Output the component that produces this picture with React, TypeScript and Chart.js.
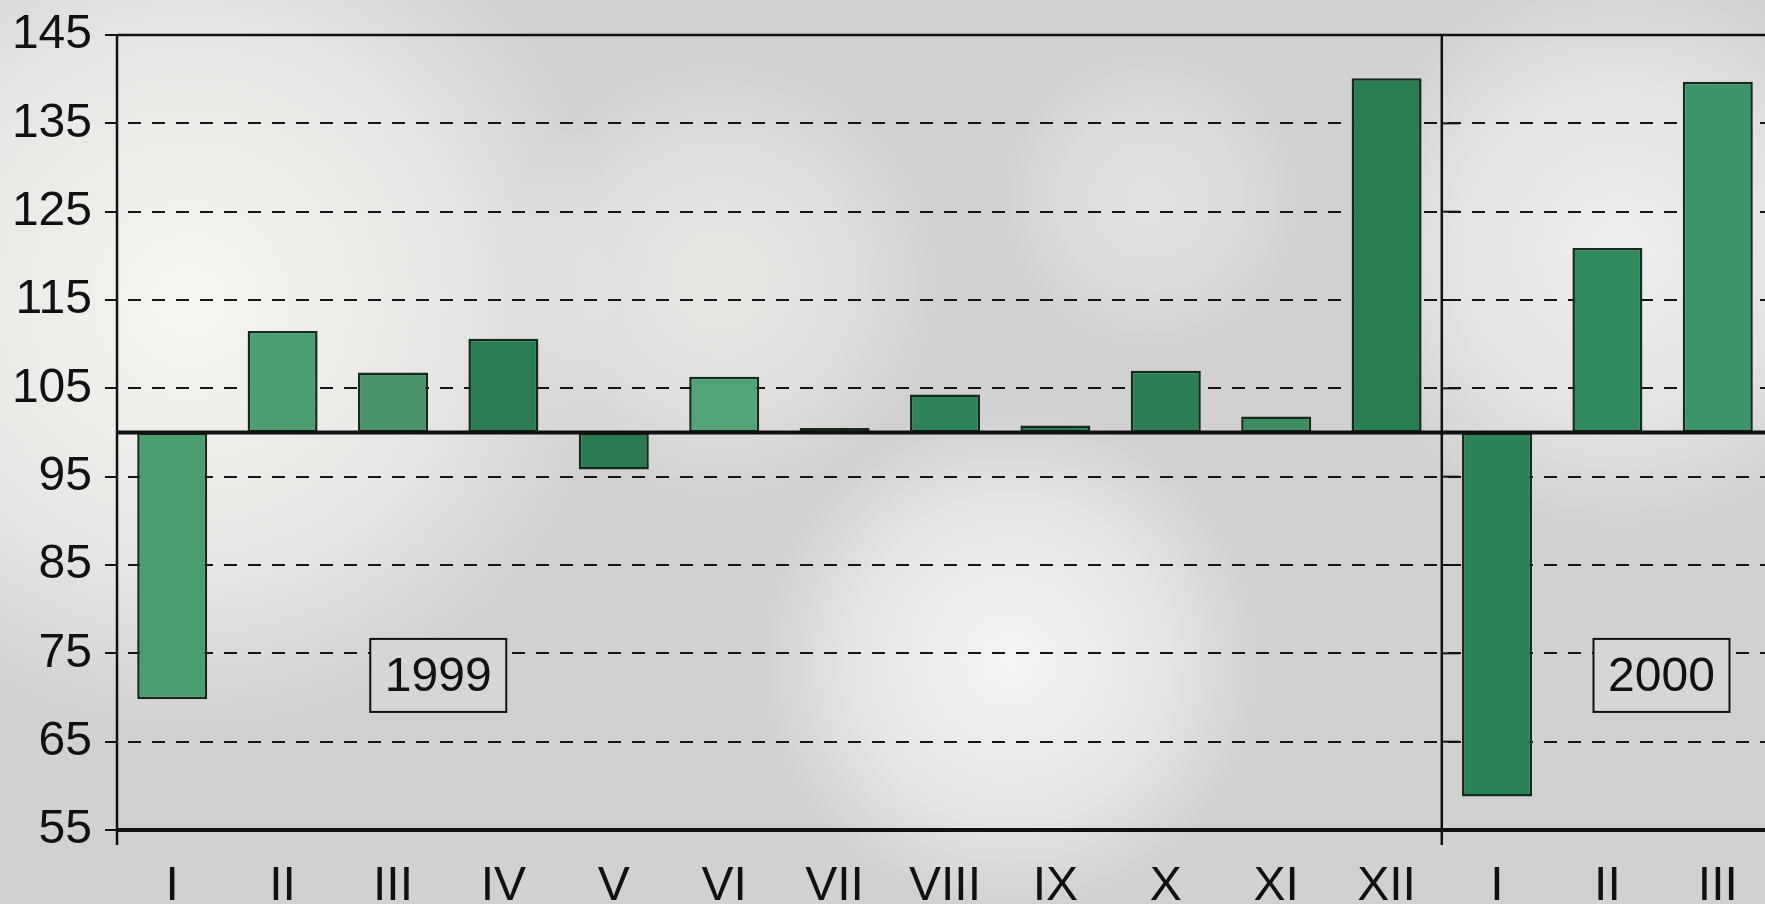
import React, { useEffect, useRef } from 'react';
import { Chart, registerables } from 'chart.js';

Chart.register(...registerables);

const categories = ['I', 'II', 'III', 'IV', 'V', 'VI', 'VII', 'VIII', 'IX', 'X', 'XI', 'XII', 'I', 'II', 'III'];
const values = [69.8, 111.5, 106.8, 110.6, 95.8, 106.3, 100.5, 104.3, 100.8, 107.0, 101.8, 140.1, 58.8, 120.9, 139.7];
const barColors = [
  '#4a9d6c', '#4c9f6e', '#4a9469', '#2c7d52', '#2b7a50', '#52a475', '#2a6e48', '#2e8456',
  '#2a7a50', '#2c7f53', '#3d8e60', '#2a7f51', '#2b8254', '#308b5c', '#3b9569',
];
const yearLabels = ['1999', '2000'];
const yearLabelCategory = [2.41, 13.49];
const yearLabelValue = [72.5, 72.5];
const yMin = 55;
const yMax = 145;
const yStep = 10;
const baseValue = 100;
const yearBoundary = 11.5;

const FONT = '"Liberation Sans", Arial, Helvetica, sans-serif';

export default function App() {
  const ref = useRef<HTMLCanvasElement>(null);

  useEffect(() => {
    document.body.style.margin = '0';
    const canvas = ref.current;
    if (!canvas) return;

    const bgPlugin = {
      id: 'bgMosaic',
      beforeDraw(chart: any) {
        const { ctx, width, height } = chart;
        ctx.save();
        ctx.fillStyle = '#d1d1d1';
        ctx.fillRect(0, 0, width, height);
        const blobs: [number, number, number, number, number, number, number][] = [
          [190, 300, 430, 249, 247, 243, 0.95],
          [720, 280, 220, 246, 245, 240, 0.6],
          [1010, 660, 250, 250, 250, 250, 0.85],
          [1620, 250, 280, 244, 247, 247, 0.8],
          [1150, 200, 150, 240, 242, 242, 0.5],
        ];
        for (const [x, y, r, cr, cg, cb, a] of blobs) {
          const g = ctx.createRadialGradient(x, y, 0, x, y, r);
          g.addColorStop(0, `rgba(${cr},${cg},${cb},${a})`);
          g.addColorStop(0.6, `rgba(${cr},${cg},${cb},${a * 0.6})`);
          g.addColorStop(1, `rgba(${cr},${cg},${cb},0)`);
          ctx.fillStyle = g;
          ctx.fillRect(0, 0, width, height);
        }
        ctx.restore();
      },
    };

    const overlayPlugin = {
      id: 'overlay',
      afterDatasetsDraw(chart: any) {
        const { ctx, chartArea } = chart;
        const xs = chart.scales.x;
        const ys = chart.scales.y;
        const { left, right, top, bottom } = chartArea;
        const step = xs.getPixelForValue(1) - xs.getPixelForValue(0);
        const catPx = (v: number) => xs.getPixelForValue(0) + v * step;
        const sepX = catPx(yearBoundary);
        const ink = '#111';

        const line = (x1: number, y1: number, x2: number, y2: number, w: number) => {
          ctx.beginPath();
          ctx.lineWidth = w;
          ctx.strokeStyle = ink;
          ctx.setLineDash([]);
          ctx.moveTo(x1, y1);
          ctx.lineTo(x2, y2);
          ctx.stroke();
        };

        ctx.save();
        line(left, top, right, top, 2.5);
        line(left, top, left, bottom + 15, 2.5);
        line(sepX, top, sepX, bottom + 15, 2.5);
        for (let v = yMin; v <= yMax; v += yStep) {
          const y = ys.getPixelForValue(v);
          line(sepX, y, sepX + 18, y, 2);
        }
        const yb = ys.getPixelForValue(baseValue);
        line(left, yb, right, yb, 4);
        line(left, bottom, right, bottom, 4);

        ctx.font = `48px ${FONT}`;
        ctx.textAlign = 'center';
        ctx.textBaseline = 'middle';
        for (let i = 0; i < yearLabels.length; i++) {
          const cx = catPx(yearLabelCategory[i]);
          const cy = ys.getPixelForValue(yearLabelValue[i]);
          const w = 136;
          const h = 73;
          ctx.fillStyle = 'rgba(214,214,214,1)';
          ctx.fillRect(cx - w / 2, cy - h / 2, w, h);
          ctx.lineWidth = 2;
          ctx.strokeStyle = ink;
          ctx.strokeRect(cx - w / 2, cy - h / 2, w, h);
          ctx.fillStyle = ink;
          ctx.fillText(yearLabels[i], cx, cy + 2);
        }
        ctx.restore();
      },
    };

    const chart = new Chart(canvas, {
      type: 'bar',
      data: {
        labels: categories,
        datasets: [
          {
            data: values,
            base: baseValue,
            backgroundColor: barColors,
            borderColor: '#142a1b',
            borderWidth: 2.5,
            borderSkipped: false,
            barPercentage: 0.634,
            categoryPercentage: 1,
          } as any,
        ],
      },
      options: {
        animation: false,
        responsive: false,
        devicePixelRatio: 1,
        layout: { padding: { top: 35, left: 0, right: 27, bottom: 0 } },
        plugins: {
          legend: { display: false },
          tooltip: { enabled: false },
          title: { display: false },
        },
        scales: {
          x: {
            type: 'category',
            offset: true,
            grid: { display: false, drawTicks: false },
            border: { display: false },
            ticks: {
              color: '#111',
              font: { family: FONT, size: 48 },
              padding: 28,
              maxRotation: 0,
              minRotation: 0,
              autoSkip: false,
            },
            afterFit: (scale: any) => {
              scale.height = 100;
              scale.paddingLeft = 0;
              scale.paddingRight = 0;
            },
          },
          y: {
            min: yMin,
            max: yMax,
            grid: {
              color: (ctx: any) => {
                const v = ctx.tick ? ctx.tick.value : null;
                return v === yMin || v === yMax || v === baseValue ? 'rgba(0,0,0,0)' : '#151515';
              },
              lineWidth: 2,
              drawTicks: true,
              tickLength: 12,
              tickWidth: 2,
              tickColor: '#111',
              tickBorderDash: [],
            },
            border: { display: false, dash: [13, 11], dashOffset: 13 },
            ticks: {
              stepSize: yStep,
              color: '#111',
              font: { family: FONT, size: 48 },
              padding: 13,
            },
            afterFit: (scale: any) => {
              scale.width = 117;
              scale.paddingTop = 0;
              scale.paddingBottom = 0;
            },
          },
        },
      },
      plugins: [bgPlugin, overlayPlugin],
    });

    return () => {
      chart.destroy();
    };
  }, []);

  return (
    <div
      style={{
        position: 'fixed',
        left: 0,
        top: 0,
        width: 1765,
        height: 904,
        overflow: 'hidden',
        background: '#d1d1d1',
      }}
    >
      <canvas ref={ref} width={1800} height={930} style={{ display: 'block' }} />
    </div>
  );
}
